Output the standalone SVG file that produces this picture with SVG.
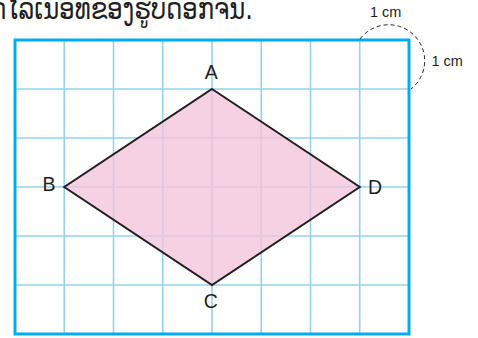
<svg xmlns="http://www.w3.org/2000/svg" width="478" height="338" viewBox="0 0 478 338">
<style>
.grid{stroke:#93d3ef;stroke-width:1.6;fill:none}
.border{stroke:#00aeef;stroke-width:3;fill:none}
.lbl{font-family:"Liberation Sans",Arial,sans-serif;font-size:19.5px;fill:#231f20}
.cm{font-family:"Liberation Sans",Arial,sans-serif;font-size:14.5px;fill:#231f20}
.title{font-family:"DejaVu Sans","Noto Sans",sans-serif;font-size:24.3px;fill:#231f20}
</style>
<rect width="478" height="338" fill="#ffffff"/>
<text class="title" transform="translate(253,18.5) scale(1,1.22)" x="0" y="0" text-anchor="end">ຄິດໄລ່ເນື້ອທີ່ຂອງຮູບດອກຈັນ.</text>
<g id="grid">
<path class="grid" d="M64.25 40V334M113.5 40V334M162.75 40V334M212 40V334M261.25 40V334M310.5 40V334M359.75 40V334M15 89H409M15 138H409M15 187H409M15 236H409M15 285H409"/>
</g>
<g id="rhombus">
<polygon points="212,89 359.75,187 212,285 64.25,187" fill="#f4c3db" fill-opacity="0.78" stroke="none"/>
<polygon points="212,89 359.75,187 212,285 64.25,187" fill="none" stroke="#231f20" stroke-width="2" stroke-linejoin="miter"/>
</g>
<rect class="border" x="15" y="40" width="394" height="294"/>
<g id="labels">
<text class="lbl" x="211.3" y="79" text-anchor="middle">A</text>
<text class="lbl" x="55.5" y="191" text-anchor="end">B</text>
<text class="lbl" x="210.8" y="308" text-anchor="middle">C</text>
<text class="lbl" x="368" y="193.5">D</text>
</g>
<g id="scale">
<path d="M360 39 A36 36 0 1 1 411 89" fill="none" stroke="#231f20" stroke-width="1" stroke-dasharray="4 3"/>
<text class="cm" x="370" y="16.5">1 cm</text>
<text class="cm" x="431.5" y="65.7">1 cm</text>
</g>
</svg>
